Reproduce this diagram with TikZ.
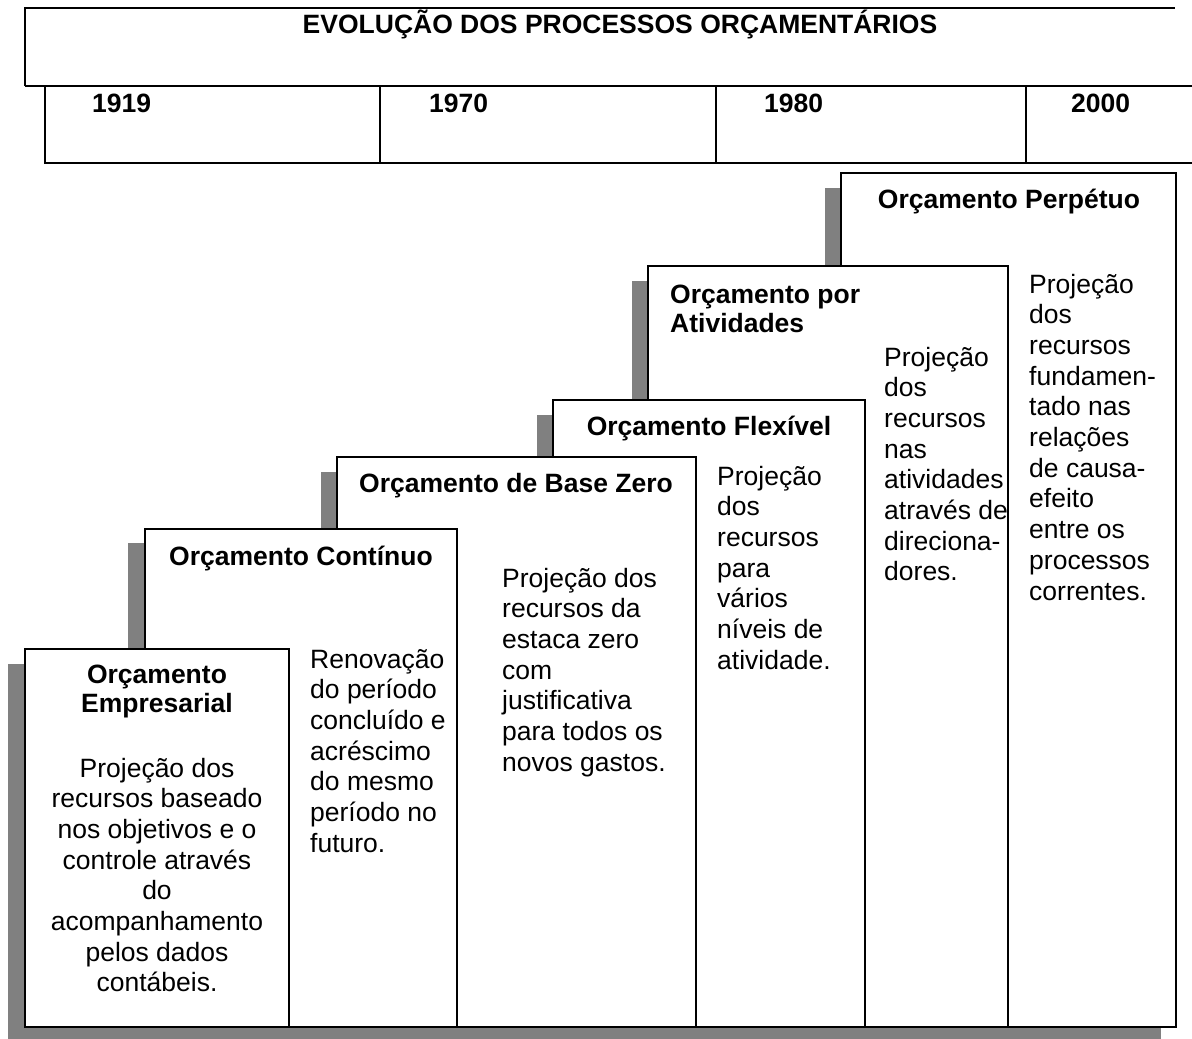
\documentclass[tikz,border=0pt]{standalone}
\usepackage{fontspec}
\setmainfont{Liberation Sans}
\definecolor{shd}{RGB}{128,128,128}
\begin{document}
\begin{tikzpicture}[x=1pt,y=-1pt,
  box/.style={draw=black,line width=1.8pt,fill=white},
  shadowbox/.style={fill=shd,draw=none},
  frame/.style={draw=black,line width=1.8pt},
  txt/.style={inner sep=0pt,font=\fontsize{26.5}{30.7}\selectfont},
  ttl/.style={txt,font=\fontsize{26.5}{29.8}\selectfont\bfseries},
  body/.style={txt,anchor=base west,align=left}]
\useasboundingbox (0,0) rectangle (1192,1039);
% header table
\draw[frame] (25,86) -- (25,8) -- (1175,8);
\draw[frame] (25,86) -- (1192,86);
\draw[frame] (45,86) -- (45,163) -- (1192,163);
\draw[frame] (380,86) -- (380,163);
\draw[frame] (716,86) -- (716,163);
\draw[frame] (1026,86) -- (1026,163);
\node[ttl,anchor=base] (title) at (620,33) {EVOLUÇÃO DOS PROCESSOS ORÇAMENTÁRIOS};
\node[ttl,anchor=base west] (y1919) at (92,112) {1919};
\node[ttl,anchor=base west] (y1970) at (429,112) {1970};
\node[ttl,anchor=base west] (y1980) at (764,112) {1980};
\node[ttl,anchor=base west] (y2000) at (1071,112) {2000};
% box 6
\fill[shadowbox] (825,188) rectangle (1161,1040);
\draw[box] (841,173) rectangle (1176,1027);
% box 5
\fill[shadowbox] (632,281) rectangle (993,1040);
\draw[box] (648,266) rectangle (1008,1027);
% box 4
\fill[shadowbox] (537,415) rectangle (850,1040);
\draw[box] (553,400) rectangle (865,1027);
% box 3
\fill[shadowbox] (321,472) rectangle (681,1040);
\draw[box] (337,457) rectangle (696,1027);
% box 2
\fill[shadowbox] (128,543) rectangle (442,1040);
\draw[box] (145,529) rectangle (457,1027);
% box 1
\fill[shadowbox] (8,664) rectangle (274,1040);
\draw[box] (25,649) rectangle (289,1027);
% texts box 6 (multi-line nodes: base = last line)
\node[ttl,anchor=base] (t6) at (1009,208) {Orçamento Perpétuo};
\node[body] (b6) at (1029,600) {Projeção\\dos\\recursos\\fundamen-\\tado nas\\relações\\de causa-\\efeito\\entre os\\processos\\correntes.};
% box 5
\node[ttl,anchor=base west,align=left] (t5) at (670,332.8) {Orçamento por\\Atividades};
\node[body] (b5) at (884,580.9) {Projeção\\dos\\recursos\\nas\\atividades\\através de\\direciona-\\dores.};
% box 4
\node[ttl,anchor=base] (t4) at (709,435) {Orçamento Flexível};
\node[body] (b4) at (717,669.2) {Projeção\\dos\\recursos\\para\\vários\\níveis de\\atividade.};
% box 3
\node[ttl,anchor=base] (t3) at (516,492) {Orçamento de Base Zero};
\node[body] (b3) at (502,771.2) {Projeção dos\\recursos da\\estaca zero\\com\\justificativa\\para todos os\\novos gastos.};
% box 2
\node[ttl,anchor=base] (t2) at (301,565) {Orçamento Contínuo};
\node[body] (b2) at (310,852.2) {Renovação\\do período\\concluído e\\acréscimo\\do mesmo\\período no\\futuro.};
% box 1
\node[ttl,anchor=base,align=center] (t1) at (157,712.8) {Orçamento\\Empresarial};
\node[txt,anchor=base,align=center] (b1) at (157,991.9) {Projeção dos\\recursos baseado\\nos objetivos e o\\controle através\\do\\acompanhamento\\pelos dados\\contábeis.};
\end{tikzpicture}
\end{document}
